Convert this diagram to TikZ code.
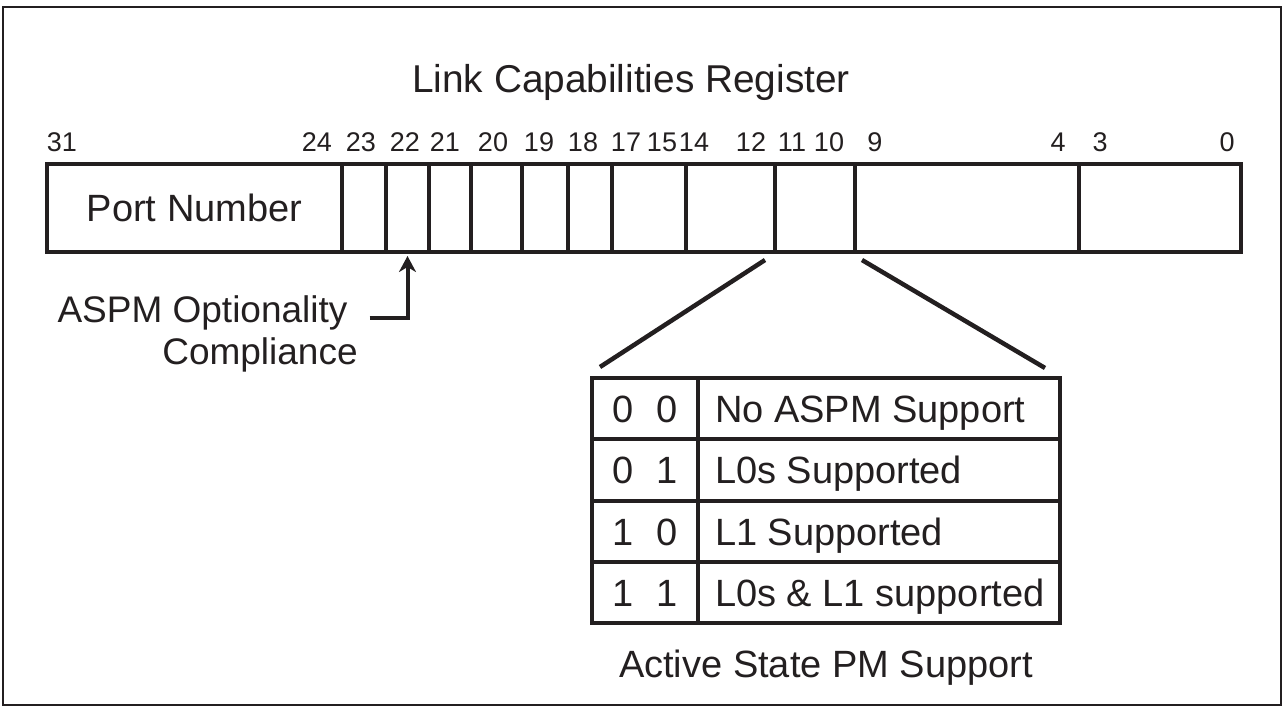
\documentclass[tikz,border=0pt]{standalone}
\usepackage{fontspec}
\setmainfont{Liberation Sans}
\usetikzlibrary{arrows.meta,positioning,calc}
\definecolor{ink}{HTML}{231F20}
\newcommand{\bitpair}[2]{#1\hspace{23pt}#2}
\tikzset{
  field/.style={draw=ink,line width=4.5pt,outer sep=0pt,inner sep=0pt,minimum height=88pt,anchor=north west,
    font=\fontsize{38}{40}\selectfont,text=ink,text height=28pt,text depth=0pt},
  cell/.style={draw=ink,line width=4pt,outer sep=0pt,inner sep=0pt,minimum height=61.25pt,anchor=north west,
    font=\fontsize{38}{40}\selectfont,text=ink,text height=28pt,text depth=0pt},
  bitno/.style={font=\fontsize{27}{29}\selectfont,text=ink,inner sep=0pt,anchor=base},
  bigtext/.style={font=\fontsize{38}{40}\selectfont,text=ink,inner sep=0pt,anchor=base},
  zoomline/.style={draw=ink,line width=4.5pt},
  pointer/.style={-{Stealth[length=16pt,width=17pt,inset=5pt]},draw=ink,line width=4pt},
}
\begin{document}
\begin{tikzpicture}[x=1pt,y=-1pt]
  \useasboundingbox (0,0) rectangle (1286,711);
  \draw[ink,line width=2.5pt] (3,7) rectangle (1281,705);
  \node[bigtext,font=\fontsize{38.8}{40}\selectfont] (title) at (631,93) {Link Capabilities Register};
  \foreach \l/\r/\n/\t in {47/342/f24/Port Number,342/386/f23/,386/429/f22/,429/471/f21/,471/522/f20/,
      522/568/f19/,568/612/f18/,612/686/f15/,686/775/f12/,775/855/f10/,855/1079/f4/,1079/1241/f0/}
    \node[field,minimum width={(\r-\l)*1pt}] (\n) at (\l,164) {\t};
  \foreach \x/\t in {62/31,317/24,361/23,405/22,445/21,493/20,539/19,583/18,626/17,662/15,694/14,
      751/12,792/11,829/10,875/9,1058/4,1100/3,1227/0}
    \node[bitno] (n\t) at (\x,152) {\t};
  \node[bigtext,font=\fontsize{37}{39}\selectfont] (opt) at (202.5,323) {ASPM Optionality};
  \node[bigtext,font=\fontsize{37}{39}\selectfont] (compl) at (260,365) {Compliance};
  \draw[pointer,shorten >=4pt] ([shift={(22,5)}]opt.east) -| (f22.south);
  \foreach \a/\b/\d [count=\i] in {0/0/No ASPM Support,0/1/L0s Supported,1/0/L1 Supported,1/1/L0s \& L1 supported}{
    \node[cell,minimum width=106pt] (c\i) at (592,{378+61.25*(\i-1)}) {\bitpair{\a}{\b}};
    \node[cell,minimum width=362pt,inner xsep=17pt] (d\i) at (698,{378+61.25*(\i-1)}) {\makebox[328pt][l]{\d}};
  }
  \draw[zoomline] ($(f10.south west)+(-10,8)$) -- ($(c1.north west)+(8,-11)$);
  \draw[zoomline] ($(f10.south east)+(7,8)$) -- ($(d1.north east)+(-15,-10)$);
  \node[bigtext] (asps) at (826,677) {Active State PM Support};
\end{tikzpicture}
\end{document}
